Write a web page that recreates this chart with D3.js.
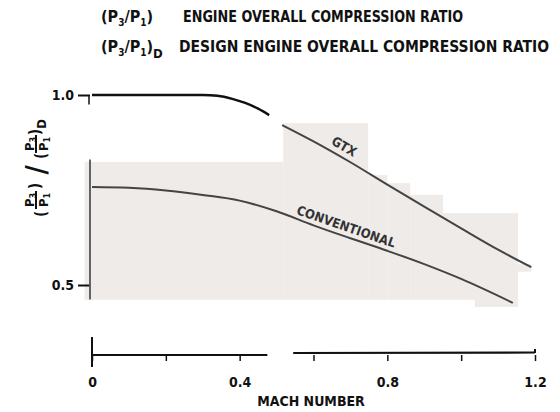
<!DOCTYPE html>
<html><head><meta charset="utf-8">
<script src="https://cdn.jsdelivr.net/npm/d3@7/dist/d3.min.js"></script>
<style>body{margin:0;background:#fff}svg{display:block}text{font-family:"DejaVu Sans Condensed","DejaVu Sans",sans-serif;font-weight:bold;fill:#111}</style>
</head><body><svg id="c" width="560" height="412"></svg>
<script>
// ---- data ----
const designMach  = [0, 0.1, 0.2, 0.3, 0.34, 0.38, 0.415, 0.45, 0.48];
const designRatio = [1.0, 1.0, 1.0, 1.0, 0.998, 0.99, 0.979, 0.964, 0.947];
const gtxMach  = [0.515, 0.6, 0.7, 0.8, 0.9, 1.0, 1.1, 1.19];
const gtxRatio = [0.921, 0.878, 0.823, 0.764, 0.706, 0.649, 0.593, 0.547];
const convMach  = [0, 0.1, 0.2, 0.3, 0.4, 0.5, 0.6, 0.7, 0.8, 0.9, 1.0, 1.14];
const convRatio = [0.758, 0.756, 0.749, 0.737, 0.722, 0.694, 0.657, 0.623, 0.59, 0.555, 0.516, 0.453];
const xTicks = [0, 0.2, 0.4, 0.6, 0.8, 1.0, 1.2];
const xTickLabels = ["0", "", "0.4", "", "0.8", "", "1.2"];
const yTicks = [0.5, 1.0];
const yTickLabels = ["0.5", "1.0"];
const seriesNames = ["GTX", "CONVENTIONAL"];
const legendLines = ["ENGINE OVERALL COMPRESSION RATIO", "DESIGN ENGINE OVERALL COMPRESSION RATIO"];
// scanned paper patches [mach0, mach1, ratioTop, ratioBottom]
const patchM0 = [-0.02, 0.518, 0.748, 0.80, 0.862, 0.951, 1.037, 1.154];
const patchM1 = [0.518, 0.748, 0.80, 0.862, 0.951, 1.154, 1.154, 1.19];
const patchRT = [0.824, 0.926, 0.789, 0.768, 0.737, 0.689, 0.461, 0.555];
const patchRB = [0.461, 0.461, 0.461, 0.461, 0.461, 0.461, 0.442, 0.535];

const svg = d3.select("#c");
const x = d3.scaleLinear().domain([0, 1.2]).range([92, 535]);
const y = d3.scaleLinear().domain([0.5, 1.0]).range([285, 95]);
const axisY = 355;

// patches
svg.append("g").selectAll("rect").data(patchM0.map((m, i) => i)).join("rect")
  .attr("x", i => x(patchM0[i])).attr("width", i => x(patchM1[i]) - x(patchM0[i]))
  .attr("y", i => y(patchRT[i])).attr("height", i => y(patchRB[i]) - y(patchRT[i]))
  .attr("fill", "#efebe8");

// legend header
function pRatio(g, xx, yy, withD) {
  const t = g.append("text").attr("x", xx).attr("y", yy).attr("font-size", 16);
  t.append("tspan").text("(P");
  t.append("tspan").attr("font-size", 10).attr("dy", 4).text("3");
  t.append("tspan").attr("dy", -4).text("/P");
  t.append("tspan").attr("font-size", 10).attr("dy", 4).text("1");
  t.append("tspan").attr("dy", -4).text(")");
  if (withD) t.append("tspan").attr("font-size", 13).attr("dy", 6).text("D");
}
const hdr = svg.append("g");
pRatio(hdr, 101, 22, false);
pRatio(hdr, 101, 52, true);
hdr.append("text").attr("x", 183).attr("y", 22).attr("font-size", 16)
  .attr("textLength", 280).attr("lengthAdjust", "spacingAndGlyphs").text(legendLines[0]);
hdr.append("text").attr("x", 179).attr("y", 52).attr("font-size", 16)
  .attr("textLength", 370).attr("lengthAdjust", "spacingAndGlyphs").text(legendLines[1]);

// y axis
const yAx = svg.append("g").attr("transform", `translate(${x(0) - 2},0)`)
  .call(d3.axisLeft(y).tickValues(yTicks).tickSize(12).tickPadding(4).tickFormat((d, i) => yTickLabels[i]));
yAx.select(".domain").remove();
yAx.selectAll(".tick line").attr("stroke", "#111").attr("stroke-width", 2);
yAx.selectAll(".tick text").attr("font-size", 14).attr("font-family", null).style("fill", "#111");
svg.append("line").attr("x1", x(0) - 2).attr("x2", x(0) - 2).attr("y1", y(0.83)).attr("y2", y(0.462))
  .attr("stroke", "#555").attr("stroke-width", 1.8);
svg.append("line").attr("x1", x(0) - 3).attr("x2", x(0) - 3).attr("y1", y(1.0)).attr("y2", y(0.975))
  .attr("stroke", "#111").attr("stroke-width", 1.5);

// y title
const yt = svg.append("g").attr("transform", "translate(36,170) rotate(-90)");
function frac(g, cx) {
  const n = g.append("text").attr("x", cx).attr("y", -2).attr("font-size", 13).attr("text-anchor", "middle");
  n.append("tspan").text("P"); n.append("tspan").attr("font-size", 9).attr("dy", 2).text("3");
  const d = g.append("text").attr("x", cx).attr("y", 12).attr("font-size", 13).attr("text-anchor", "middle");
  d.append("tspan").text("P"); d.append("tspan").attr("font-size", 9).attr("dy", 2).text("1");
  g.append("line").attr("x1", cx - 9).attr("x2", cx + 9).attr("y1", 0).attr("y2", 0).attr("stroke", "#111").attr("stroke-width", 2);
}
yt.append("text").attr("x", -44).attr("y", 10).attr("font-size", 15).attr("text-anchor", "middle").text("(");
frac(yt, -30);
yt.append("text").attr("x", -16).attr("y", 4).attr("font-size", 15).attr("text-anchor", "middle").text(")");
yt.append("text").attr("x", 0).attr("y", 10).attr("font-size", 28).attr("text-anchor", "middle").attr("font-weight", "normal").text("/");
yt.append("text").attr("x", 14).attr("y", 10).attr("font-size", 15).attr("text-anchor", "middle").text("(");
frac(yt, 26);
yt.append("text").attr("x", 38).attr("y", 4).attr("font-size", 15).attr("text-anchor", "middle").text(")");
yt.append("text").attr("x", 46).attr("y", 10).attr("font-size", 13).attr("text-anchor", "middle").text("D");

// x axis
const xAx = svg.append("g").attr("transform", `translate(0,${axisY})`)
  .call(d3.axisBottom(x).tickValues(xTicks).tickSize(6).tickPadding(16).tickFormat((d, i) => xTickLabels[i]));
xAx.select(".domain").remove();
xAx.selectAll(".tick line").attr("stroke", "#111").attr("stroke-width", 1.5);
xAx.selectAll(".tick text").attr("font-size", 14).attr("font-family", null).style("fill", "#111");
const seg = [[0, 0.475], [0.545, 1.2]];
xAx.selectAll(".dom").data(seg).join("line").attr("class", "dom")
  .attr("x1", d => x(d[0])).attr("x2", d => x(d[1])).attr("y1", (d, i) => i ? -2 : 0).attr("y2", (d, i) => i ? -2.5 : 0)
  .attr("stroke", "#111").attr("stroke-width", 2.2);
xAx.append("line").attr("x1", x(0)).attr("x2", x(0)).attr("y1", -18).attr("y2", 12).attr("stroke", "#111").attr("stroke-width", 2);
xAx.append("line").attr("x1", x(1.2)).attr("x2", x(1.2)).attr("y1", -6).attr("y2", -2).attr("stroke", "#111").attr("stroke-width", 2);
svg.append("text").attr("x", 311).attr("y", 406).attr("font-size", 14).attr("text-anchor", "middle").text("MACH NUMBER");

// curves
const line = d3.line().x(d => x(d[0])).y(d => y(d[1])).curve(d3.curveMonotoneX);
svg.append("path").attr("d", line(designMach.map((m, i) => [m, designRatio[i]])))
  .attr("fill", "none").attr("stroke", "#111").attr("stroke-width", 2.4);
svg.append("path").attr("d", line(gtxMach.map((m, i) => [m, gtxRatio[i]])))
  .attr("fill", "none").attr("stroke", "#444").attr("stroke-width", 2);
svg.append("path").attr("d", line(convMach.map((m, i) => [m, convRatio[i]])))
  .attr("fill", "none").attr("stroke", "#444").attr("stroke-width", 2);

// labels
function label(txt, m, r, ang, off, size) {
  svg.append("text").attr("transform", `translate(${x(m)},${y(r)}) rotate(${ang})`)
    .attr("y", -off).attr("font-size", size).attr("text-anchor", "middle").style("fill", "#333").text(txt);
}
label(seriesNames[0], 0.67, 0.843, 30, 5, 13);
label(seriesNames[1], 0.68, 0.63, 19, 5, 13);
</script></body></html>
